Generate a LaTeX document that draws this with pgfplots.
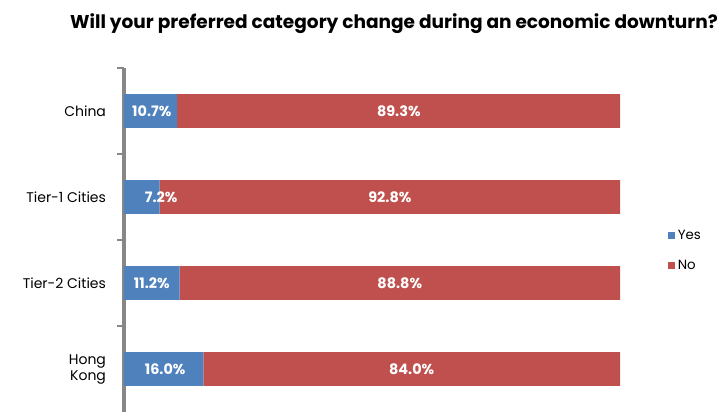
\documentclass[border=0pt]{standalone}
\usepackage{pgfplots}
\pgfplotsset{compat=1.18}
\usepackage{pgfplotstable}
\usepackage{fontspec}
\setmainfont{Poppins}

\definecolor{yesblue}{HTML}{4F81BD}
\definecolor{nored}{HTML}{C0504D}
\definecolor{axgray}{HTML}{878787}

% share of answers, in percent
\pgfplotstableread{
y yes no
0 10.7 89.3
1 7.2 92.8
2 11.2 88.8
3 16.0 84.0
}\shares

% where the labels sit (centre of each segment)
\pgfplotstableread{
y yesc yes noc no
0 5.6 10.7 55.4 89.3
1 7.5 7.2 53.6 92.8
2 5.6 11.2 55.6 88.8
3 8.3 16.0 58.0 84.0
}\labels

\begin{document}
\begin{tikzpicture}[x=0.75pt,y=0.75pt]
\useasboundingbox (0,0) rectangle (717,412);

\pgfplotsset{
  common/.style={
    at={(93pt,0pt)}, anchor=south west,
    scale only axis,
    width=372pt, height=258pt,
    xmin=0, xmax=100,
    ymin=-0.5, ymax=3.5,
    y dir=reverse,
  }
}

\begin{axis}[
  common,
  xbar stacked,
  bar width=0.395,
  axis x line=none,
  axis y line*=left,
  y axis line style={draw=axgray, line width=2.4pt},
  ytick={0,1,2,3},
  yticklabels={China,Tier-1 Cities,Tier-2 Cities,{Hong\\Kong}},
  tick style={draw=axgray, line width=2pt},
  tick align=outside,
  major tick length=0pt,
  yticklabel style={align=right, anchor=east, xshift=-10pt,
    font=\fontsize{10.5}{12}\selectfont},
  extra y ticks={-0.5,0.5,1.5,2.5},
  extra y tick labels={},
  extra y tick style={major tick length=5pt},
  legend style={draw=none, at={(1.088,0.468)}, anchor=west,
    font=\fontsize{10}{11.5}\selectfont, row sep=10pt,
    /tikz/every even column/.append style={column sep=2pt}},
  legend cell align=left,
  legend image code/.code={\fill[#1] (0pt,-2.6pt) rectangle (5.4pt,2.8pt);},
]
\addplot[fill=yesblue, draw=none] table[x=yes, y=y] {\shares};
\addlegendentry{Yes}
\addplot[fill=nored, draw=none] table[x=no, y=y] {\shares};
\addlegendentry{No}
\end{axis}

\begin{axis}[common, hide axis,
  /pgf/number format/assume math mode=true,
  nodes near coords={\pgfmathprintnumber[fixed,fixed zerofill,precision=1]{\pgfplotspointmeta}\%},
  every node near coord/.append style={anchor=center, text=white,
    font=\bfseries\fontsize{10.8}{12}\selectfont},
]
\addplot[draw=none, point meta=explicit] table[x=yesc, y=y, meta=yes] {\labels};
\addplot[draw=none, point meta=explicit] table[x=noc, y=y, meta=no] {\labels};
\end{axis}

\node[font=\bfseries\fontsize{13.9}{16}\selectfont] at (394,388) {Will your preferred category change during an economic downturn?};
\end{tikzpicture}
\end{document}
